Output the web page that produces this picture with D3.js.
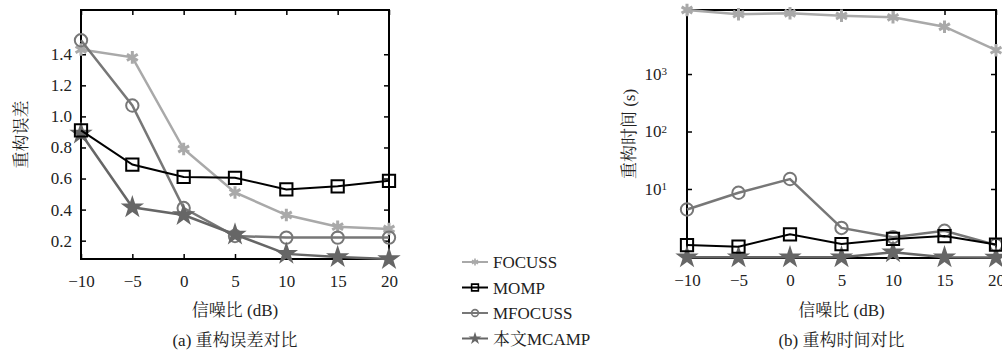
<!DOCTYPE html>
<html><head><meta charset="utf-8">
<script src="https://cdn.jsdelivr.net/npm/d3@7/dist/d3.min.js"></script>
<style>
body{margin:0;background:#fff;}
svg{display:block;}
</style>
</head><body>
<svg id="chart" width="1002" height="353"></svg>
<script>
const snr = [-10, -5, 0, 5, 10, 15, 20];
const seriesNames = ["FOCUSS", "MOMP", "MFOCUSS", "本文MCAMP"];
// (a) reconstruction error
const errFOCUSS  = [1.43, 1.38, 0.79, 0.51, 0.365, 0.29, 0.275];
const errMOMP    = [0.91, 0.69, 0.61, 0.605, 0.53, 0.55, 0.585];
const errMFOCUSS = [1.49, 1.07, 0.41, 0.23, 0.22, 0.22, 0.22];
const errMCAMP   = [0.89, 0.415, 0.365, 0.24, 0.115, 0.095, 0.082];
// (b) reconstruction time (s), log scale
const timeFOCUSS  = [13000, 11000, 11400, 10300, 9700, 6650, 2600];
const timeMOMP    = [1.06, 0.99, 1.63, 1.1, 1.35, 1.52, 1.08];
const timeMFOCUSS = [4.4, 8.6, 14.9, 2.1, 1.45, 1.88, 1.06];
const timeMCAMP   = [0.65, 0.65, 0.65, 0.65, 0.79, 0.65, 0.64];
const errTicks = [0.2, 0.4, 0.6, 0.8, 1.0, 1.2, 1.4];
const timeTicks = [10, 100, 1000];
const xTicks = [-10, -5, 0, 5, 10, 15, 20];

const colors = ["#a9a9a9", "#000000", "#777777", "#666666"];
const symbols = [d3.symbolAsterisk, d3.symbolSquare, d3.symbolCircle, d3.symbolStar];
const SERIF = '"Liberation Serif", "Times New Roman", Tinos, "DejaVu Serif", "Noto Serif", serif';
const CJK = '"Liberation Serif", "Times New Roman", Tinos, "DejaVu Serif", "Noto Serif CJK SC", "Noto Sans CJK SC", serif';

const svg = d3.select("#chart");
const fmtX = d => d < 0 ? "\u2212" + Math.abs(d) : String(d);

function drawMarker(g, k, x, y, scale) {
  const s = scale || 1;
  const sizes = [110, 150, 120, 170];
  const p = g.append("path")
    .attr("d", d3.symbol(symbols[k], sizes[k] * s * s)())
    .attr("transform", `translate(${x},${y})`);
  if (k === 0) p.attr("fill", "none").attr("stroke", colors[0]).attr("stroke-width", 3 * s);
  else if (k === 1) p.attr("fill", "none").attr("stroke", colors[1]).attr("stroke-width", 2 * Math.max(s, 0.8));
  else if (k === 2) p.attr("fill", "none").attr("stroke", colors[2]).attr("stroke-width", 2 * Math.max(s, 0.8));
  else p.attr("fill", colors[3]).attr("stroke", "none");
}

function panel(opts) {
  const {x0, x1, y0, y1, yScale, data, yTickVals, yFmt, yPad, yTitle, yTitleX, caption} = opts;
  const g = svg.append("g");
  const x = d3.scaleLinear().domain([-10, 20]).range([x0, x1]);
  const y = yScale.range([y1, y0]);

  g.append("rect").attr("x", x0).attr("y", y0).attr("width", x1 - x0).attr("height", y1 - y0)
    .attr("fill", "none").attr("stroke", "#000").attr("stroke-width", 2);

  const axB = g.append("g").attr("transform", `translate(0,${y1})`)
    .call(d3.axisBottom(x).tickValues(xTicks).tickFormat(fmtX).tickSize(-5).tickPadding(16));
  const axT = g.append("g").attr("transform", `translate(0,${y0})`)
    .call(d3.axisTop(x).tickValues(xTicks).tickFormat("").tickSize(-5));
  const axL = g.append("g").attr("transform", `translate(${x0},0)`)
    .call(d3.axisLeft(y).tickValues(yTickVals).tickFormat(yFmt).tickSize(-5).tickPadding(yPad));
  const axR = g.append("g").attr("transform", `translate(${x1},0)`)
    .call(d3.axisRight(y).tickValues(yTickVals).tickFormat("").tickSize(-5));
  [axB, axT, axL, axR].forEach(a => {
    a.attr("font-family", SERIF).attr("font-size", 17);
    a.select(".domain").remove();
    a.selectAll(".tick line").attr("stroke", "#000").attr("stroke-width", 1.5);
    a.selectAll("text").style("font-family", SERIF).attr("font-size", 17).attr("fill", "#222");
  });

  const order = [0, 2, 3, 1];
  order.forEach(k => {
    const vals = data[k];
    const line = d3.line().x((d, i) => x(snr[i])).y(d => y(d));
    g.append("path").datum(vals).attr("d", line).attr("fill", "none")
      .attr("stroke", colors[k]).attr("stroke-width", k === 1 ? 2 : 2.5);
    vals.forEach((v, i) => drawMarker(g, k, x(snr[i]), y(v), 1));
  });

  const txt = (sel) => sel.style("font-family", CJK).attr("font-size", 17).attr("fill", "#222");
  g.append("text").attr("x", (x0 + x1) / 2).attr("y", 316).attr("text-anchor", "middle")
    .call(txt).text("信噪比 (dB)");
  g.append("text").attr("x", (x0 + x1) / 2).attr("y", 346).attr("text-anchor", "middle")
    .call(txt).text(caption);
  g.append("text").attr("transform", `translate(${yTitleX},${(y0 + y1) / 2}) rotate(-90)`)
    .attr("text-anchor", "middle").call(txt).text(yTitle);
  return {g, axL};
}

panel({
  x0: 81, x1: 389, y0: 10, y1: 259,
  yScale: d3.scaleLinear().domain([0.082, 1.685]),
  data: [errFOCUSS, errMOMP, errMFOCUSS, errMCAMP],
  yTickVals: errTicks, yFmt: d3.format(".1f"), yPad: 9,
  yTitle: "重构误差", yTitleX: 27, caption: "(a) 重构误差对比"
});

const pb = panel({
  x0: 687, x1: 996, y0: 10, y1: 258,
  yScale: d3.scaleLog().domain([0.63, 13000]),
  data: [timeFOCUSS, timeMOMP, timeMFOCUSS, timeMCAMP],
  yTickVals: timeTicks, yFmt: d => "", yPad: 20,
  yTitle: "重构时间 (s)", yTitleX: 635, caption: "(b) 重构时间对比"
});
pb.axL.selectAll(".tick text").each(function(d) {
  const t = d3.select(this);
  t.text(null);
  t.append("tspan").text("10");
  t.append("tspan").attr("dy", "-0.45em").attr("font-size", 11).text(Math.round(Math.log10(d)));
});

const lg = svg.append("g");
seriesNames.forEach((name, k) => {
  const yy = 262 + k * 25.5;
  lg.append("line").attr("x1", 462).attr("x2", 488).attr("y1", yy).attr("y2", yy)
    .attr("stroke", colors[k]).attr("stroke-width", 2);
  drawMarker(lg, k, 475, yy, 0.55);
  lg.append("text").attr("x", 493).attr("y", yy + 6)
    .style("font-family", CJK).attr("font-size", 17).attr("fill", "#222").text(name);
});
</script>
</body></html>
